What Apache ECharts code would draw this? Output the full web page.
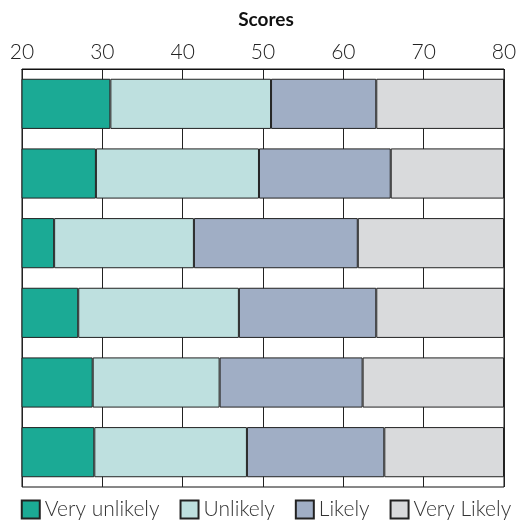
<!DOCTYPE html>
<html><head><meta charset="utf-8">
<script src="https://cdn.jsdelivr.net/npm/echarts@6/dist/echarts.min.js"></script>
<style>html,body{margin:0;padding:0;background:#fff}#c{width:532px;height:528px}</style>
</head><body><div id="c"></div>
<script>
const categories = ['Q1','Q2','Q3','Q4','Q5','Q6'];
const seriesNames = ['Very unlikely','Unlikely','Likely','Very Likely'];
const veryUnlikely = [31.0, 29.2, 24.0, 27.0, 28.8, 29.0];
const unlikely     = [20.0, 20.3, 17.4, 20.0, 15.8, 19.0];
const likely       = [13.1, 16.4, 20.4, 17.1, 17.8, 17.1];
const veryLikely   = [15.9, 14.1, 18.2, 15.9, 17.6, 14.9];
const xTicks = [20, 30, 40, 50, 60, 70, 80];
const colors = ['#1baa95','#bee0df','#a0aec5','#d9dadc'];

const values = [veryUnlikely, unlikely, likely, veryLikely];
const font = 'Lato, "Open Sans", sans-serif';
const chart = echarts.init(document.getElementById('c'));
chart.setOption({
  animation: false,
  title: { text: 'Scores', left: 'center', top: 5,
    textStyle: { fontFamily: font, fontWeight: 'bold', fontSize: 19, color: '#111' } },
  grid: { left: 22, right: 28, top: 69, bottom: 41, show: true,
    borderColor: '#111', borderWidth: 1, backgroundColor: '#fff' },
  xAxis: { type: 'value', position: 'top', min: xTicks[0], max: xTicks[xTicks.length-1], interval: 10,
    axisLine: { show: true, lineStyle: { color: '#111' } },
    axisTick: { show: false },
    axisLabel: { fontFamily: font, fontWeight: 300, fontSize: 21, color: '#222', margin: 6 },
    splitLine: { show: true, lineStyle: { color: '#222', width: 1 } } },
  yAxis: { type: 'category', data: categories, inverse: true,
    axisLine: { show: false }, axisTick: { show: false }, axisLabel: { show: false },
    splitLine: { show: false } },
  legend: { bottom: 3, left: 'center', itemWidth: 18, itemHeight: 18, itemGap: 20, itemTextGap: 8,
    icon: 'rect',
    textStyle: { fontFamily: font, fontWeight: 300, fontSize: 21, color: '#333' },
    data: seriesNames },
  series: seriesNames.map((n, i) => ({
    name: n, type: 'bar', stack: 'all', data: values[i],
    barCategoryGap: '28%',
    itemStyle: { color: colors[i], borderColor: '#222', borderWidth: 1 }
  }))
});
</script></body></html>
